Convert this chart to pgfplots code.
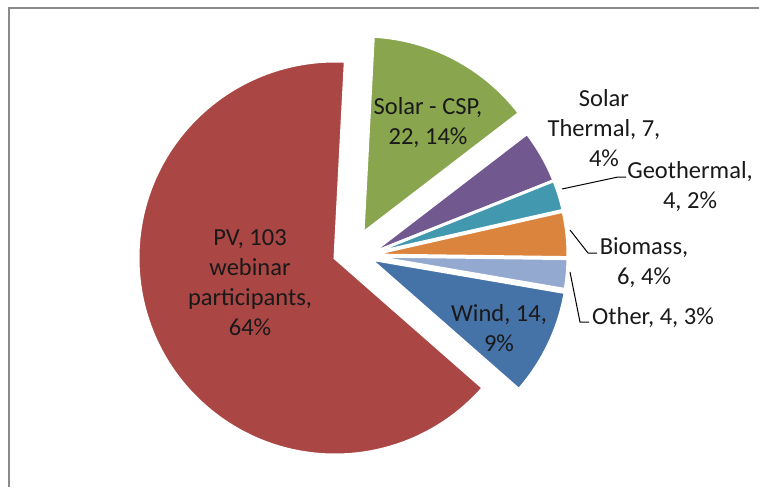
\documentclass[border=0pt]{standalone}
\usepackage{fontspec}
\setmainfont{Carlito}
\usepackage{pgfplots}
\usepackage{pgfplotstable}
\pgfplotsset{compat=1.18}
\definecolor{col0}{HTML}{89A54E}% Solar - CSP
\definecolor{col1}{HTML}{71588F}% Solar Thermal
\definecolor{col2}{HTML}{4198AF}% Geothermal
\definecolor{col3}{HTML}{DB843D}% Biomass
\definecolor{col4}{HTML}{93A9CF}% Other
\definecolor{col5}{HTML}{4572A7}% Wind
\definecolor{col6}{HTML}{AA4643}% PV
\definecolor{framegray}{HTML}{8A8A8A}
\tikzset{lbl/.style={font=\fontsize{24.5}{30}\selectfont, text=black!90, align=center, inner sep=0pt}}
% slice values (clockwise from the top), slice centre (pixels) and radius
\pgfplotstableread{
idx value cx cy r
0 22 363 233 197
1 7 370 254 198
2 4 370 254 198
3 6 370 255 198
4 4 370 256 198
5 14 370 259 198
6 103 335 258 197
}\piedata
\xdef\cum{0}
\foreach \i in {0,...,6}{%
  \pgfplotstablegetelem{\i}{value}\of\piedata\let\myv\pgfplotsretval
  \pgfmathsetmacro\myc{\cum+\myv}\xdef\cum{\myc}}
\xdef\total{\cum}
\xdef\cum{0}
\foreach \i in {0,...,6}{%
  \pgfplotstablegetelem{\i}{value}\of\piedata\let\myv\pgfplotsretval
  \pgfmathsetmacro\as{87-\cum/\total*360}
  \pgfmathsetmacro\ae{87-(\cum+\myv)/\total*360}
  \expandafter\xdef\csname as\i\endcsname{\as}
  \expandafter\xdef\csname ae\i\endcsname{\ae}
  \pgfplotstablegetelem{\i}{cx}\of\piedata\expandafter\xdef\csname cx\i\endcsname{\pgfplotsretval}
  \pgfplotstablegetelem{\i}{cy}\of\piedata\expandafter\xdef\csname cy\i\endcsname{\pgfplotsretval}
  \pgfplotstablegetelem{\i}{r}\of\piedata\expandafter\xdef\csname r\i\endcsname{\pgfplotsretval}
  \pgfmathsetmacro\myc{\cum+\myv}\xdef\cum{\myc}}
\begin{document}
\begin{tikzpicture}
\begin{axis}[
  width=759pt, height=487pt, scale only axis,
  xmin=0, xmax=759, ymin=0, ymax=487, y dir=reverse,
  axis lines=none, ticks=none, clip=false,
]
\pgfplotsinvokeforeach{0,...,6}{%
  \edef\tmp{\noexpand\fill[col#1, draw=white, line width=3pt]
    (axis cs:\csname cx#1\endcsname,\csname cy#1\endcsname)
    -- ++(\csname as#1\endcsname:\csname r#1\endcsname pt)
    arc[start angle=\csname as#1\endcsname, end angle=\csname ae#1\endcsname, radius=\csname r#1\endcsname pt]
    -- cycle;}\tmp
}
\draw[framegray, line width=2pt] (axis cs:9,487) -- (axis cs:9,8) -- (axis cs:759,8);
% leader lines
\draw[black, line width=1pt] (axis cs:562,189) -- (axis cs:618,177) -- (axis cs:626,177);
\draw[black, line width=1pt] (axis cs:570,230) -- (axis cs:588,253) -- (axis cs:597,253);
\draw[black, line width=1pt] (axis cs:570,272) -- (axis cs:580,322) -- (axis cs:589,322);
% labels
\node[lbl] at (axis cs:428,123) {Solar - CSP,\\22, 14\%};
\node[lbl] at (axis cs:604,128) {Solar\\Thermal, 7,\\4\%};
\node[lbl] at (axis cs:690,187) {Geothermal,\\4, 2\%};
\node[lbl] at (axis cs:644,263) {Biomass,\\6, 4\%};
\node[lbl] at (axis cs:653,318) {Other, 4, 3\%};
\node[lbl] at (axis cs:499,328) {Wind, 14,\\9\%};
\node[lbl] at (axis cs:250,283) {PV, 103\\webinar\\participants,\\64\%};
\end{axis}
\pgfresetboundingbox
\path (current axis.south west) rectangle (current axis.north east);
\end{tikzpicture}
\end{document}
